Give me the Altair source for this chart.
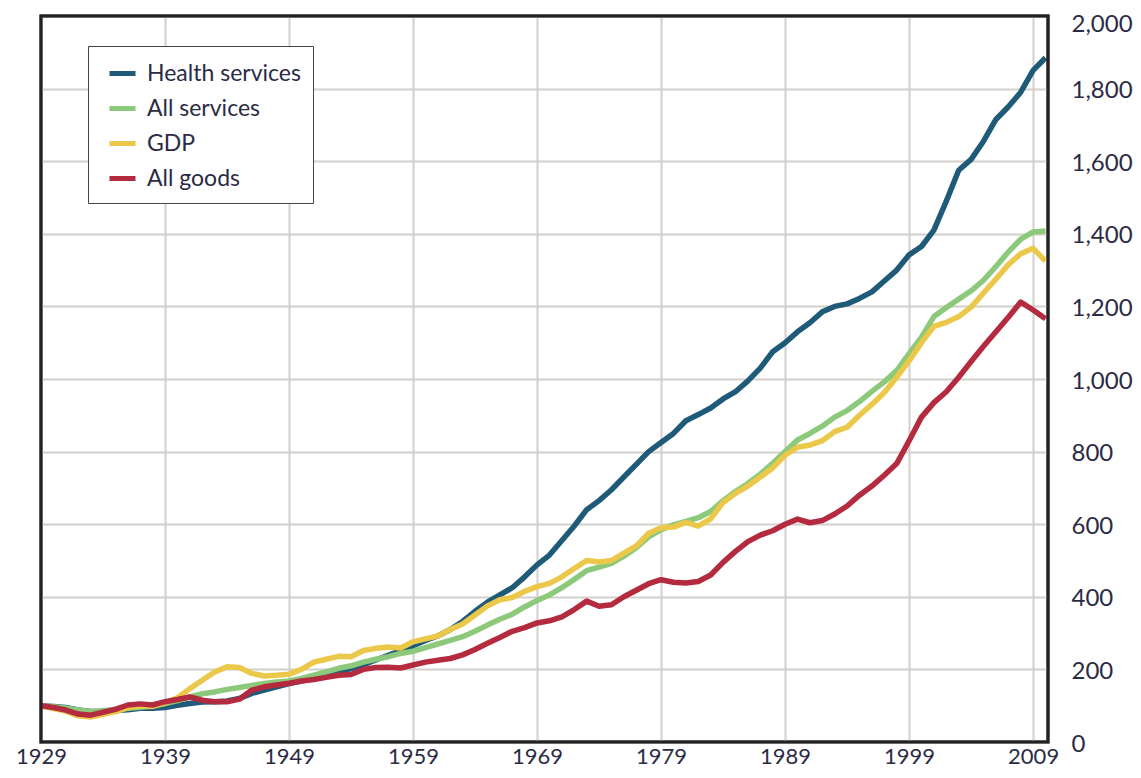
import altair as alt
import pandas as pd

years = list(range(1929, 2011))

health = [100, 98, 95, 88, 84, 84, 87, 89, 93, 93,
          95, 101, 106, 110, 111, 113, 120, 134, 143, 152,
          161, 168, 175, 183, 192, 202, 213, 226, 239, 252,
          265, 280, 292, 310, 332, 360, 385, 405, 425, 455,
          488, 515, 555, 595, 640, 665, 695, 730, 765, 800,
          825, 850, 885, 902, 920, 945, 965, 995, 1030, 1075,
          1100, 1130, 1155, 1185, 1200, 1207, 1222, 1240, 1270, 1300,
          1342, 1365, 1410, 1490, 1575, 1605, 1655, 1715, 1750, 1790,
          1850, 1885]

services = [100, 97, 94, 88, 84, 86, 90, 93, 96, 99,
            106, 114, 124, 133, 138, 145, 150, 156, 161, 165,
            168, 175, 184, 193, 203, 210, 220, 228, 235, 244,
            250, 260, 270, 280, 290, 305, 322, 338, 352, 372,
            390, 405, 425, 448, 472, 482, 492, 512, 535, 565,
            585, 598, 608, 618, 635, 665, 690, 712, 738, 768,
            800, 832, 850, 870, 895, 913, 938, 966, 992, 1023,
            1070, 1115, 1172, 1197, 1220, 1243, 1272, 1310, 1350, 1385,
            1405, 1408]

gdp = [100, 92, 85, 72, 69, 76, 84, 94, 100, 98,
       108, 122, 147, 170, 193, 207, 205, 189, 182, 184,
       187, 200, 220, 228, 236, 235, 252, 258, 262, 259,
       276, 284, 292, 310, 325, 350, 375, 392, 398, 415,
       428, 437, 455, 478, 500, 496, 500, 520, 540, 575,
       590, 592, 605, 595, 615, 660, 685, 705, 730, 755,
       790, 812, 818, 830, 855, 867, 900, 930, 963, 1005,
       1050, 1100, 1145, 1156, 1172, 1198, 1237, 1275, 1315, 1345,
       1360, 1325]

goods = [100, 95, 88, 77, 74, 82, 90, 102, 105, 102,
         111, 117, 124, 115, 111, 111, 118, 143, 152, 157,
         162, 168, 172, 178, 184, 186, 200, 205, 206, 204,
         212, 220, 225, 230, 240, 255, 272, 288, 305, 315,
         328, 334, 345, 365, 388, 374, 378, 400, 418, 436,
         447, 440, 438, 442, 460, 495, 525, 552, 570, 582,
         600, 614, 604, 610, 628, 650, 680, 705, 735, 767,
         830, 895, 935, 965, 1005, 1048, 1090, 1130, 1170, 1212,
         1190, 1166]

series_names = ["Health services", "All services", "GDP", "All goods"]
series_colors = ["#1f5b79", "#8dc97b", "#ecc84a", "#b42a3f"]
x_ticks = list(range(1929, 2010, 10))
y_ticks = list(range(0, 2001, 200))
x_domain = [1929, 2010.2]
y_domain = [0, 2000]

rows = []
for name, vals in zip(series_names, [health, services, gdp, goods]):
    for yr, v in zip(years, vals):
        rows.append({"year": yr, "value": v, "series": name})
df = pd.DataFrame(rows)

text_color = "#2b2b45"
font = "Lato"

x_enc = alt.X("year:Q",
              scale=alt.Scale(domain=x_domain, nice=False, zero=False),
              axis=alt.Axis(values=x_ticks, format="d", title=None, ticks=False, domain=False,
                            labelFontSize=22, labelPadding=4, labelColor=text_color, labelFont=font,
                            gridColor="#d3cfcb", gridWidth=2, labelFlush=False))
y_enc = alt.Y("value:Q",
              scale=alt.Scale(domain=y_domain, nice=False),
              axis=alt.Axis(orient="right", values=y_ticks, format=",.0f", title=None, ticks=False, domain=False,
                            labelFontSize=24, labelPadding=23,
                            labelOffset={"condition": {"test": "datum.value >= 2000", "value": 8}, "value": 2},
                            labelColor=text_color,
                            labelFont=font, labelAlign="left", gridColor="#d3cfcb", gridWidth=2))

lines = alt.Chart(df).mark_line(strokeWidth=5.5, strokeJoin="round", strokeCap="butt").encode(
    x=x_enc,
    y=y_enc,
    color=alt.Color("series:N",
                    scale=alt.Scale(domain=series_names, range=series_colors),
                    legend=alt.Legend(title=None, orient="none", legendX=47, legendY=30,
                                      symbolType="stroke", symbolStrokeWidth=5, symbolSize=676,
                                      symbolOffset=7,
                                      labelFontSize=23, labelColor=text_color, labelFont=font,
                                      labelOffset=9, rowPadding=7, padding=12,
                                      strokeColor="#444444", fillColor="white", labelLimit=300)),
    detail="series:N",
)

frame = alt.Chart(pd.DataFrame({"k": [0]})).mark_rect(
    filled=False, stroke="#222222", strokeWidth=3
).encode(
    x=alt.datum(x_domain[0]), x2=alt.datum(x_domain[1]),
    y=alt.datum(y_domain[0]), y2=alt.datum(y_domain[1]),
)

chart = alt.layer(lines, frame).properties(
    width=1007, height=726,
    background="white",
    autosize=alt.AutoSizeParams(type="none"),
    padding={"left": 33, "top": 8, "right": 85, "bottom": 28},
).configure_view(
    stroke="#222222", strokeWidth=3
)

chart.save("out.html", embed_options={"renderer": "svg", "actions": False})
